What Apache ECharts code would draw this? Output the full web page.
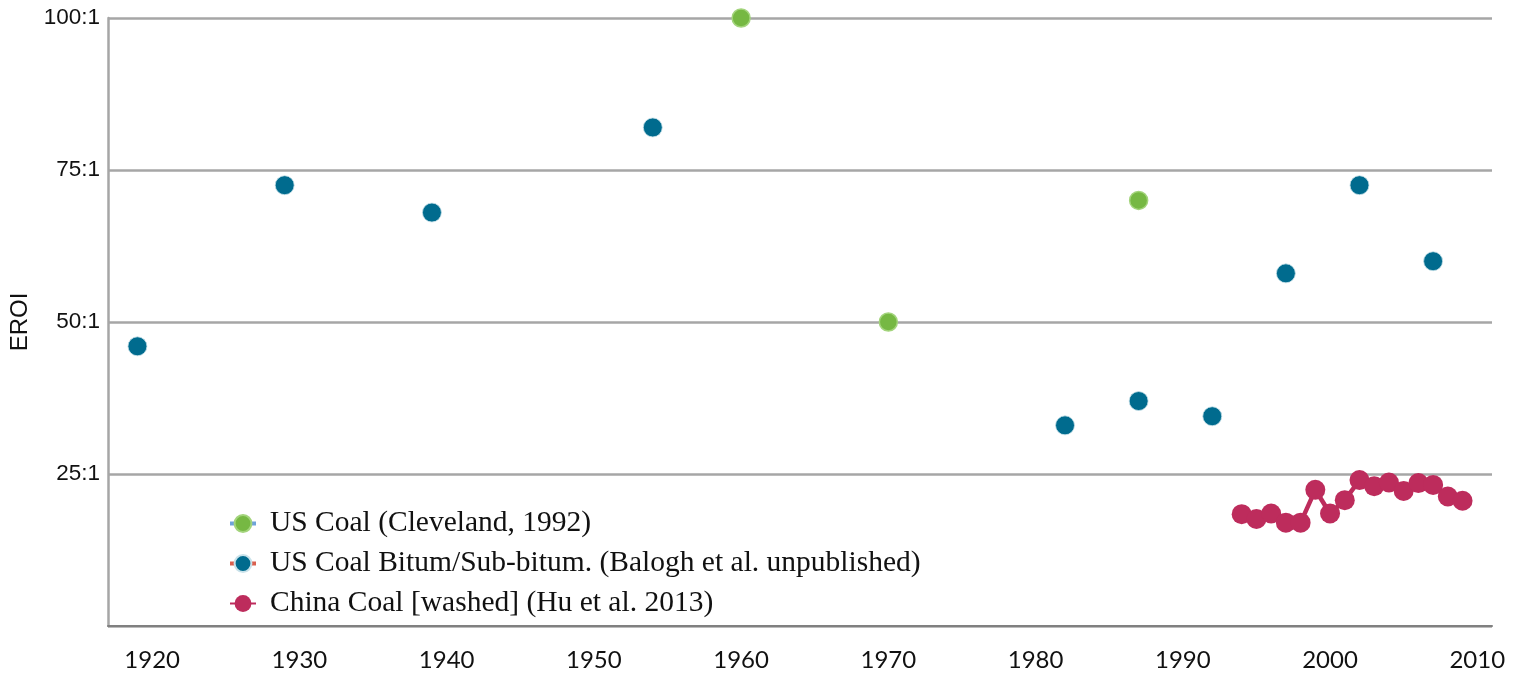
<!DOCTYPE html>
<html>
<head>
<meta charset="utf-8">
<title>EROI of coal</title>
<script src="https://cdn.jsdelivr.net/npm/echarts@6/dist/echarts.min.js"></script>
<style>
    html, body { margin: 0; padding: 0; background: #fff; }
    #chart { width: 1521px; height: 675px; }
</style>
</head>
<body>
<div id="chart"></div>
<script>
// US Coal (Cleveland, 1992)
const clevelandYears = [1960, 1970, 1987];
const clevelandEroi = [100, 50, 70];

// US Coal Bitum/Sub-bitum. (Balogh et al. unpublished)
const baloghYears = [1919, 1929, 1939, 1954, 1982, 1987, 1992, 1997, 2002, 2007];
const baloghEroi = [46, 72.5, 68, 82, 33, 37, 34.5, 58, 72.5, 60];

// China Coal [washed] (Hu et al. 2013)
const chinaYears = [1994, 1995, 1996, 1997, 1998, 1999, 2000, 2001, 2002, 2003, 2004, 2005, 2006, 2007, 2008, 2009];
const chinaEroi = [18.4, 17.6, 18.5, 17.0, 17.0, 22.4, 18.5, 20.7, 24.0, 23.0, 23.6, 22.2, 23.5, 23.2, 21.3, 20.6];

const yearTicks = [1920, 1930, 1940, 1950, 1960, 1970, 1980, 1990, 2000, 2010];

const seriesNames = [
    'US Coal (Cleveland, 1992)',
    'US Coal Bitum/Sub-bitum. (Balogh et al. unpublished)',
    'China Coal [washed] (Hu et al. 2013)'
];

const pairs = (xs, ys) => xs.map((x, i) => [x, ys[i]]);

let myChart = echarts.init(document.getElementById('chart'));

let option = {
    animation: false,
    backgroundColor: '#fff',
    grid: {
        left: 107,
        right: 29,
        top: 18,
        bottom: 49
    },
    legend: {
        orient: 'vertical',
        left: 223,
        top: 503,
        itemWidth: 26,
        itemHeight: 21,
        itemGap: 9,
        textStyle: {
            fontFamily: 'Liberation Serif',
            fontSize: 29.5,
            lineHeight: 31,
            color: '#111',
            padding: [0, 0, 0, 9]
        },
        data: [
            {name: seriesNames[0], lineStyle: {color: '#6fa3da', opacity: 1, width: 4}},
            {name: seriesNames[1], lineStyle: {color: '#d9604f', opacity: 1, width: 4}},
            {name: seriesNames[2]}
        ]
    },
    xAxis: {
        type: 'value',
        min: 1917,
        max: 2011,
        axisLine: {
            show: true,
            lineStyle: {color: '#808080', width: 2}
        },
        axisTick: {show: false},
        splitLine: {show: false},
        axisLabel: {
            customValues: yearTicks,
            margin: 22,
            fontFamily: 'Lato',
            fontSize: 24,
            color: '#111',
            formatter: v => String(v)
        }
    },
    yAxis: {
        type: 'value',
        min: 0,
        max: 100,
        interval: 25,
        name: 'EROI',
        nameLocation: 'middle',
        nameGap: 76,
        nameTextStyle: {
            fontFamily: 'Liberation Sans',
            fontSize: 24,
            color: '#111'
        },
        axisLine: {
            show: true,
            lineStyle: {color: '#a6a6a6', width: 2.5}
        },
        axisTick: {show: false},
        splitLine: {
            lineStyle: {color: '#a6a6a6', width: 2.5}
        },
        axisLabel: {
            margin: 8,
            fontFamily: 'Liberation Sans',
            fontSize: 22.5,
            color: '#111',
            formatter: v => v === 0 ? '' : v + ':1'
        }
    },
    series: [
        {
            name: seriesNames[0],
            type: 'line',
            data: pairs(clevelandYears, clevelandEroi),
            symbol: 'circle',
            symbolSize: 18,
            lineStyle: {opacity: 0, width: 4},
            itemStyle: {color: '#76b843', borderColor: '#a3d47c', borderWidth: 1.5},
            z: 3
        },
        {
            name: seriesNames[1],
            type: 'line',
            data: pairs(baloghYears, baloghEroi),
            symbol: 'circle',
            symbolSize: 19,
            lineStyle: {opacity: 0, width: 4},
            itemStyle: {color: '#006b8e', borderColor: '#c9e2ea', borderWidth: 0.8},
            z: 3
        },
        {
            name: seriesNames[2],
            type: 'line',
            data: pairs(chinaYears, chinaEroi),
            symbol: 'circle',
            symbolSize: 20,
            lineStyle: {color: '#bd2c5c', width: 4.5},
            itemStyle: {color: '#bd2c5c'},
            z: 4
        }
    ]
};

if (option && typeof option === 'object') {
    myChart.setOption(option, true);
}
</script>
</body>
</html>
